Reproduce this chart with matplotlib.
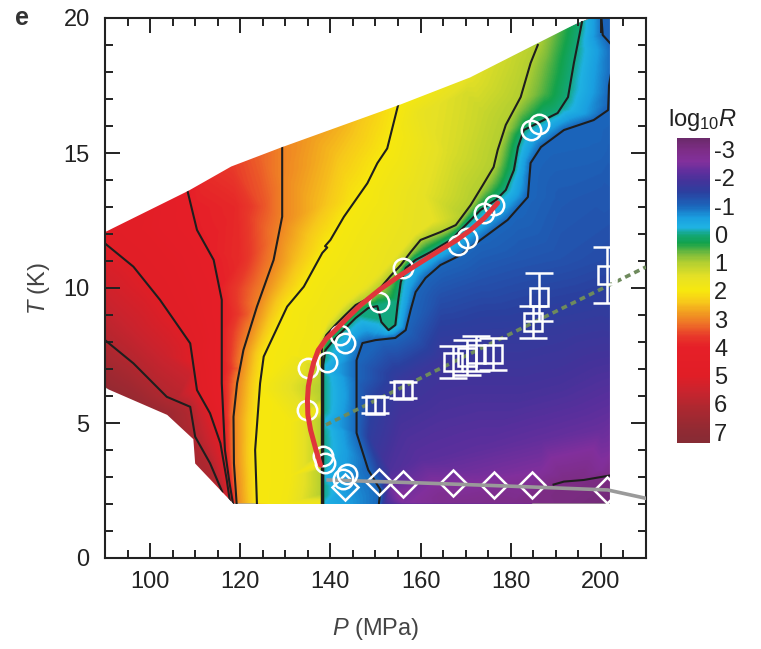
#!/usr/bin/env python
# -*- coding: utf-8 -*-
"""
Panel e: log10 R map in the P-T plane
"""

import matplotlib
matplotlib.use('Agg')

import numpy as np
import matplotlib.pyplot as plt
import matplotlib.tri as mtri
from matplotlib.colors import LinearSegmentedColormap, Normalize
from matplotlib.patches import Polygon
from matplotlib.cm import ScalarMappable
from matplotlib.ticker import MultipleLocator

plt.rcParams['font.family'] = ['Liberation Sans', 'DejaVu Sans']
plt.rcParams['mathtext.fontset'] = 'custom'
plt.rcParams['mathtext.rm'] = 'Liberation Sans'
plt.rcParams['mathtext.it'] = 'Liberation Sans:italic'
plt.rcParams['axes.unicode_minus'] = False

# outline of the measured region (P in MPa, T in K)
region_p = [90, 108.5, 118, 129, 155.6, 171, 197, 202, 202, 118.5, 110, 109.6, 103.8, 90]
region_t = [12.07, 13.6, 14.5, 15.2, 16.8, 17.8, 20, 20, 2, 2, 3.5, 4.4, 5.3, 6.3]

# iso-lines of log10 R
lev6_p = [90, 96.3, 103.7, 108.9, 110.0, 113.3, 116.0]
lev6_t = [8.07, 7.21, 5.97, 5.6, 4.49, 3.51, 2.45]
lev5_p = [90, 96.3, 102.2, 108.9, 110.4, 113.3, 115.6, 117.0, 117.7]
lev5_t = [11.65, 10.79, 9.56, 7.95, 6.22, 5.36, 4.25, 2.9, 2.1]
lev4_p = [108.0, 110.4, 114.1, 115.9, 115.9, 116.6, 117.6, 118.4]
lev4_t = [13.8, 12.15, 11.04, 9.56, 6.47, 4.0, 2.8, 2.0]
lev3_p = [129.3, 129.3, 127.4, 123.7, 120.7, 119.3, 118.5, 118.6, 119.2]
lev3_t = [15.4, 12.64, 11.04, 9.31, 7.70, 6.47, 5.23, 3.5, 2.0]
lev2_p = [155.2, 152.6, 150.4, 148.2, 143.0, 140.0, 138.8, 139.3, 138.2, 134.1,
          130.4, 125.2, 124.4, 123.3, 123.7]
lev2_t = [16.9, 15.17, 14.62, 13.88, 12.64, 11.78, 11.55, 11.50, 11.3, 10.05,
          9.31, 7.46, 6.47, 4.0, 2.0]
lev1_p = [186.0, 184.4, 182.2, 178.9, 177.1, 176.2, 173.8, 171.1, 167.8, 164.4, 160.0,
          157.8, 155.6, 153.3, 150.7, 147.8, 145.6, 143.3, 141.1, 139.1, 138.1, 138.1]
lev1_t = [19.0, 18.33, 17.07, 16.04, 15.11, 14.48, 13.81, 13.07, 12.33, 12.07, 11.78,
          11.33, 10.85, 10.44, 9.93, 9.56, 9.37, 9.0, 8.63, 8.26, 7.89, 1.9]
lev0_p = [195.8, 194.0, 192.7, 190.4, 187.3, 182.9, 181.6, 180.7, 178.9, 176.7, 173.3,
          170.0, 166.7, 162.2, 158.9, 156.7, 155.6, 154.9, 154.4, 152.9, 151.3, 150.4,
          148.4, 145.6, 142.9, 140.7, 138.9, 138.4, 138.4]
lev0_t = [19.85, 18.33, 17.07, 16.48, 16.22, 15.85, 15.22, 14.37, 13.63, 13.26, 12.89,
          12.33, 11.78, 11.33, 11.04, 10.74, 10.22, 9.37, 8.63, 8.44, 8.74, 9.33,
          9.26, 8.89, 8.44, 8.07, 7.70, 7.15, 1.9]
levm1_p = [200.1, 200.4, 202.4, 202.4, 201.8, 201.6, 198.4, 191.8, 186.7, 184.4, 183.8,
           179.3, 173.3, 168.9, 164.4, 161.1, 158.9, 157.8, 156.7, 154.4, 150.0, 147.1,
           145.8, 145.8, 148.4, 151.1, 150.7]
levm1_t = [20.04, 19.37, 19.0, 18.1, 17.5, 16.59, 16.22, 15.85, 15.22, 14.63, 13.37,
           12.52, 11.78, 11.22, 10.85, 10.37, 9.85, 9.19, 8.44, 8.15, 8.07, 7.96,
           7.33, 4.63, 3.26, 2.52, 1.93]
levm3_p = [189.5, 191.8, 196.2, 202.5]
levm3_t = [2.72, 2.83, 2.89, 3.07]

# log10 R read at the edge of the region
edge_p = [90, 99, 108.5, 113, 118, 124, 135, 142, 149, 163, 171, 179, 191, 198, 202,
          202, 202, 202, 202, 202, 202, 202, 202,
          118.5, 121.5, 130, 144, 152, 156, 165, 180, 192,
          90, 90, 90, 97, 103.8, 109.6, 110, 113]
edge_t = [12.07, 12.85, 13.6, 14.0, 14.5, 14.85, 15.55, 15.95, 16.4, 17.25, 17.8, 18.45, 19.5, 20, 20,
          15.0, 13.0, 11.0, 9.0, 7.0, 5.5, 4.0, 2.0,
          2, 2, 2, 2, 2, 2, 2, 2, 2,
          10.0, 7.2, 6.3, 5.8, 5.3, 4.4, 3.5, 2.97]
edge_v = [4.9, 4.6, 4.05, 3.8, 3.6, 3.3, 2.8, 2.6, 2.3, 1.75, 1.5, 1.25, 0.5, -0.5, -1.02,
          -1.1, -1.2, -1.35, -1.6, -1.95, -2.2, -2.5, -3.2,
          3.8, 2.5, 1.9, -0.6, -1.8, -2.5, -2.8, -2.9, -3.05,
          5.4, 6.4, 6.8, 6.7, 6.6, 6.15, 6.3, 6.2]

# log10 R read inside the region
fill_p = [96, 103, 108.9, 112.2, 95, 101,
          100, 106, 110, 112, 113.9,
          119, 125, 120, 124.5, 118.5, 121.5, 117.5, 119.5, 117.4,
          140.7, 137.5, 132.0, 126.2, 122.4, 121.0, 121.2,
          131, 131, 131, 137.6, 137.6, 137.6, 137.6,
          137.2, 139.5, 143, 147, 151, 154.5, 158.5, 163,
          160, 170, 166, 160, 174,
          189.2, 187.6, 181.7, 178.4,
          197.8, 196, 182, 139.0, 139.0, 139.0, 139.0, 143, 143, 143,
          200.0, 191.1, 200.0, 191.1, 182.2, 173.3, 164.4,
          200.0, 191.1, 182.2, 173.3, 164.4, 155.6, 148.9,
          200.0, 191.1, 182.2, 173.3, 164.4, 155.6, 148.9,
          200.0, 186.7, 173.3, 160.0, 153.3,
          200.0, 186.7, 173.3, 160.0, 153.3,
          191.1, 177.8, 164.4, 155.6]
fill_t = [8.5, 7.5, 6.8, 4.8, 6.7, 5.9,
          12.2, 11.0, 9.5, 7.5, 5.8,
          13.0, 13.0, 11.0, 11.0, 9.0, 9.0, 7.0, 7.0, 5.0,
          15.0, 13.0, 11.0, 9.0, 7.0, 5.0, 3.0,
          7.5, 5.0, 3.0, 7.3, 5.5, 3.5, 2.0,
          8.0, 8.8, 9.45, 10.0, 10.6, 11.2, 11.95, 12.45,
          16.5, 17.2, 15.0, 13.5, 16.5,
          18.3, 17.2, 16.0, 14.5,
          18.0, 16.45, 14.0, 7.0, 5.0, 3.0, 2.0, 6.0, 4.0, 2.5,
          15.11, 13.26, 13.26, 11.04, 11.04, 10.30, 9.56,
          8.81, 8.81, 8.44, 8.07, 7.33, 6.59, 5.85,
          6.59, 6.22, 5.85, 5.48, 5.11, 4.74, 4.37,
          4.74, 4.37, 4.0, 3.63, 3.26,
          3.26, 3.26, 3.07, 2.89, 2.52,
          2.33, 2.33, 2.26, 2.22]
fill_v = [5.55, 5.5, 5.5, 5.5, 6.35, 6.3,
          4.5, 4.5, 4.5, 4.5, 4.5,
          3.85, 3.4, 3.8, 3.3, 3.75, 3.35, 3.7, 3.3, 3.55,
          2.5, 2.5, 2.5, 2.5, 2.5, 2.5, 2.5,
          1.9, 1.9, 1.9, 1.8, 1.8, 1.8, 1.8,
          1.8, 1.75, 1.7, 1.7, 1.65, 1.6, 1.55, 1.5,
          1.6, 1.35, 1.4, 1.55, 1.2,
          0.5, 0.5, 0.5, 0.5,
          -0.5, -0.55, -0.5, -0.3, -0.3, -0.3, -0.3, -0.55, -0.55, -0.6,
          -1.05, -1.15, -1.2, -1.25, -1.2, -1.25, -1.3,
          -1.65, -1.6, -1.6, -1.65, -1.75, -1.7, -1.45,
          -2.0, -1.95, -1.95, -2.0, -2.0, -1.95, -1.6,
          -2.3, -2.25, -2.2, -2.15, -2.0,
          -2.65, -2.55, -2.45, -2.4, -2.35,
          -3.05, -2.85, -2.8, -2.7]

# symbols
circ_p = [138.3, 138.7, 134.9, 135.1, 139.3, 142.2, 143.3, 150.7, 156.2, 168.2, 170.4,
          174.0, 176.2, 184.4, 186.2, 142.9, 143.6]
circ_t = [3.78, 3.52, 5.48, 7.04, 7.26, 8.26, 7.96, 9.48, 10.74, 11.59, 11.85,
          12.78, 13.07, 15.85, 16.07, 2.93, 3.11]
sq_p = [150.0, 156.2, 167.1, 170.2, 172.4, 176.0, 184.9, 186.2, 201.3]
sq_t = [5.67, 6.22, 7.26, 7.44, 7.56, 7.56, 8.74, 9.67, 10.48]
sq_err = [0.3, 0.3, 0.6, 0.65, 0.65, 0.6, 0.6, 0.9, 1.05]
dia_p = [143.3, 150.7, 156.2, 167.3, 176.2, 184.7, 201.3]
dia_t = [2.63, 2.81, 2.74, 2.78, 2.70, 2.70, 2.52]
red_p = [137.8, 136.8, 135.6, 135.0, 134.9, 135.1, 135.6, 136.3, 137.3, 139.0, 141.1,
         143.8, 146.7, 151.0, 155.6, 160.0, 164.4, 167.8, 171.1, 174.2, 177.1]
red_t = [3.44, 4.0, 4.74, 5.3, 5.85, 6.35, 6.78, 7.25, 7.70, 8.1, 8.44,
         8.9, 9.37, 9.95, 10.48, 10.95, 11.41, 11.75, 12.15, 12.6, 13.15]
dash_p = [139.0, 210.0]
dash_t = [4.93, 10.78]
gray_p = [139.5, 160, 180, 201.5, 210]
gray_t = [2.89, 2.78, 2.66, 2.52, 2.21]

# colour scale
cmap_v = [-3.4, -3.0, -2.6, -2.2, -1.9, -1.5, -1.0, -0.6, -0.25, 0.0, 0.3, 0.7, 1.0,
          1.5, 2.0, 2.4, 2.8, 3.2, 3.6, 4.0, 5.0, 5.6, 6.2, 7.0, 7.4]
cmap_c = ['#6b2a6b', '#7d2d86', '#82309c', '#5d2f9d', '#44339a', '#2b409f', '#1b67bc',
          '#1a9fe0', '#1fb2e2', '#13a77a', '#12a24c', '#7cbc3c', '#b3cf31', '#e6e125',
          '#f7e80e', '#f7c81b', '#f19a21', '#ee6e28', '#e8392a', '#e61f28', '#e11e26',
          '#c8242e', '#ab2830', '#8f2a33', '#862b34']
vmin, vmax = -3.4, 7.4
cmap = LinearSegmentedColormap.from_list(
    'rmap', [((v - vmin) / (vmax - vmin), c) for v, c in zip(cmap_v, cmap_c)])
norm = Normalize(vmin, vmax)

# pixel-like scaling so the triangulation is not stretched along T
SX, SY = 4.5, 27.0


def dense(p, t, step=3.0):
    # extra nodes along a traced iso-line, for the triangulation only
    x = np.asarray(p, float) * SX
    y = np.asarray(t, float) * SY
    s = np.concatenate([[0], np.cumsum(np.hypot(np.diff(x), np.diff(y)))])
    n = max(int(s[-1] / step), 2)
    si = np.linspace(0, s[-1], n + 1)
    return np.interp(si, s, x) / SX, np.interp(si, s, y) / SY


lines = [(6, lev6_p, lev6_t), (5, lev5_p, lev5_t), (4, lev4_p, lev4_t),
         (3, lev3_p, lev3_t), (2, lev2_p, lev2_t), (1, lev1_p, lev1_t),
         (0, lev0_p, lev0_t), (-1, levm1_p, levm1_t), (-3, levm3_p, levm3_t)]

plist, tlist, vlist = [], [], []
for lev, p, t in lines:
    dp, dt = dense(p, t)
    plist.append(dp)
    tlist.append(dt)
    vlist.append(np.full(len(dp), float(lev)))
pp = np.concatenate(plist + [edge_p, fill_p])
tt = np.concatenate(tlist + [edge_t, fill_t])
vv = np.concatenate(vlist + [edge_v, fill_v])
xy = np.round(np.column_stack([pp * SX, tt * SY]), 1)
_, keep = np.unique(xy, axis=0, return_index=True)
tri = mtri.Triangulation(pp[keep] * SX, tt[keep] * SY)
interp = mtri.LinearTriInterpolator(tri, vv[keep])
pg, tg = np.meshgrid(np.linspace(89, 203, 800), np.linspace(1.8, 20.2, 640))
zg = interp(pg * SX, tg * SY)

fig = plt.figure(figsize=(7.61, 6.49), dpi=100)
ax = fig.add_axes([105/761, 1 - 558/649, 541/761, 540/649])

clip = Polygon(np.column_stack([region_p, region_t]), closed=True,
               facecolor='none', edgecolor='none')
ax.add_patch(clip)
im = ax.imshow(zg, extent=(89, 203, 1.8, 20.2), origin='lower', aspect='auto',
               cmap=cmap, norm=norm, interpolation='bilinear', zorder=1)
im.set_clip_path(clip)

for lev, p, t in lines:
    ln, = ax.plot(p, t, color='#1e1e1e', lw=1.5, zorder=2)
    ln.set_clip_path(clip)

ax.plot(dash_p, dash_t, color='#6e8a5c', lw=2.6, ls=(0, (1.6, 1.2)), zorder=3)
ax.errorbar(sq_p, sq_t, yerr=sq_err, fmt='s', ms=13, mfc='none', mec='white', mew=1.8,
            ecolor='white', elinewidth=1.8, capsize=10, capthick=1.8, zorder=4)
ax.plot(dia_p, dia_t, 'D', ms=13.5, mfc='none', mec='white', mew=1.8, zorder=4)
ax.plot(gray_p, gray_t, color='#9a9a9a', lw=2.6, zorder=5)
ax.plot(circ_p, circ_t, 'o', ms=14, mfc='none', mec='white', mew=1.8, zorder=5)
ax.plot(red_p, red_t, color='#e0353b', lw=3.6, solid_capstyle='round', zorder=6)

ax.set_xlim(90, 210)
ax.set_ylim(0, 20)
ax.set_xticks(range(100, 201, 20))
ax.set_yticks(range(0, 21, 5))
ax.xaxis.set_minor_locator(MultipleLocator(5))
ax.yaxis.set_minor_locator(MultipleLocator(1))
ax.tick_params(which='both', direction='in', top=True, right=True, width=1.4,
               color='#222222', labelsize=17, labelcolor='#222222')
ax.tick_params(which='major', length=10.5)
ax.tick_params(which='minor', length=5.5)
ax.tick_params(axis='x', pad=9)
ax.tick_params(axis='y', pad=11)
for s in ax.spines.values():
    s.set_linewidth(1.5)
    s.set_color('#222222')
ax.set_xlabel(r'$\mathit{P}$ (MPa)', fontsize=17, color='#444444', labelpad=17)
ax.set_ylabel(r'$\mathit{T}$ (K)', fontsize=17, color='#444444', labelpad=8)

fig.text(0.02, 0.972, 'e', fontsize=18, fontweight='bold', color='#333333',
         ha='left', va='center')

cax = fig.add_axes([676.7/761, 1 - 443.3/649, 33.3/761, 305/649])
cb = fig.colorbar(ScalarMappable(norm=norm, cmap=cmap), cax=cax)
cb.outline.set_visible(False)
cax.invert_yaxis()
cax.set_yticks(range(-3, 8))
cax.tick_params(length=0, labelsize=17, pad=3, labelcolor='#222222')
fig.text(703/761, 1 - 120/649, r'log$_{10}$$\mathit{R}$', fontsize=17,
         color='#222222', ha='center', va='center')

fig.savefig('out.png', dpi=100)
